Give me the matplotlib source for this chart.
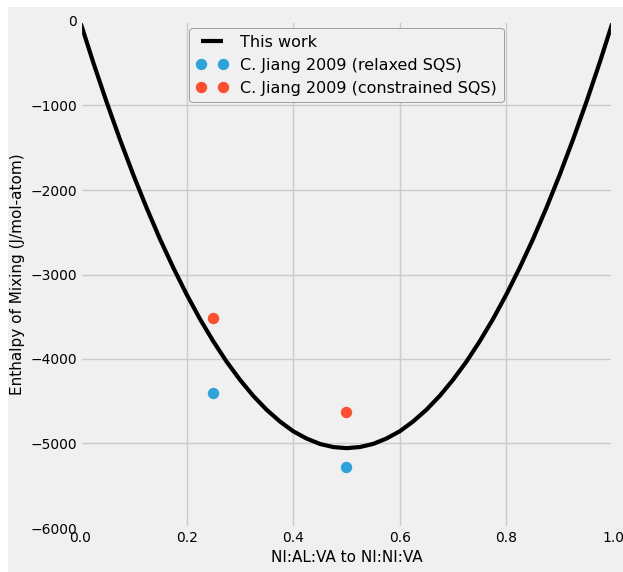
import matplotlib
matplotlib.use("Agg")
import matplotlib.pyplot as plt
from matplotlib.patches import Rectangle

# model curve ("This work")
x_model = [0.0, 0.025, 0.05, 0.075, 0.10, 0.125, 0.15, 0.175, 0.20, 0.225,
           0.25, 0.275, 0.30, 0.325, 0.35, 0.375, 0.40, 0.425, 0.45, 0.475,
           0.50, 0.525, 0.55, 0.575, 0.60, 0.625, 0.65, 0.675, 0.70, 0.725,
           0.75, 0.775, 0.80, 0.825, 0.85, 0.875, 0.90, 0.925, 0.95, 0.975, 1.0]
h_model = [0, -493, -960, -1403, -1820, -2212, -2580, -2919, -3235, -3526,
           -3790, -4031, -4245, -4436, -4600, -4739, -4855, -4941, -5005, -5042,
           -5055, -5042, -5005, -4941, -4855, -4739, -4600, -4436, -4245, -4031,
           -3790, -3526, -3235, -2919, -2580, -2212, -1820, -1403, -960, -493, 0]

# C. Jiang 2009 SQS results
x_sqs = [0.25, 0.5]
h_relaxed = [-4400, -5273]
h_constrained = [-3510, -4629]

plt.style.use("fivethirtyeight")
fig = plt.figure(figsize=(6.23, 5.72), dpi=100, facecolor="white")
# grey figure area, small white strip on the left and top
fig.patches.append(Rectangle((8 / 623, 0), 1, 565 / 572, transform=fig.transFigure,
                             facecolor="#f0f0f0", edgecolor="none", zorder=-10))
ax = fig.add_axes([80 / 623, 44 / 572, 533 / 623, 507 / 572])

ax.plot(x_model, h_model, color="black", lw=3, label="This work")
ax.plot(x_sqs, h_relaxed, "o", color="#30a2da", ms=7.2, label="C. Jiang 2009 (relaxed SQS)")
ax.plot(x_sqs, h_constrained, "o", color="#fc4f30", ms=7.2, label="C. Jiang 2009 (constrained SQS)")

ax.set_xlim(0, 1)
ax.set_ylim(-6000, 0)
ax.set_xticks([0.0, 0.2, 0.4, 0.6, 0.8, 1.0])
ax.set_yticks([-6000, -5000, -4000, -3000, -2000, -1000, 0])
ax.tick_params(labelsize=10, pad=2)
ax.set_xlabel("NI:AL:VA to NI:NI:VA", fontsize=11)
ax.set_ylabel("Enthalpy of Mixing (J/mol-atom)", fontsize=11)
ax.grid(color="#cbcbcb", lw=1)

leg = ax.legend(loc="upper center", numpoints=2, fontsize=11.5, frameon=True,
                framealpha=1, borderaxespad=0.45)
leg.get_frame().set_facecolor("#f0f0f0")
leg.get_frame().set_edgecolor("#808080")

fig.savefig("out.png", dpi=100, facecolor=fig.get_facecolor())
